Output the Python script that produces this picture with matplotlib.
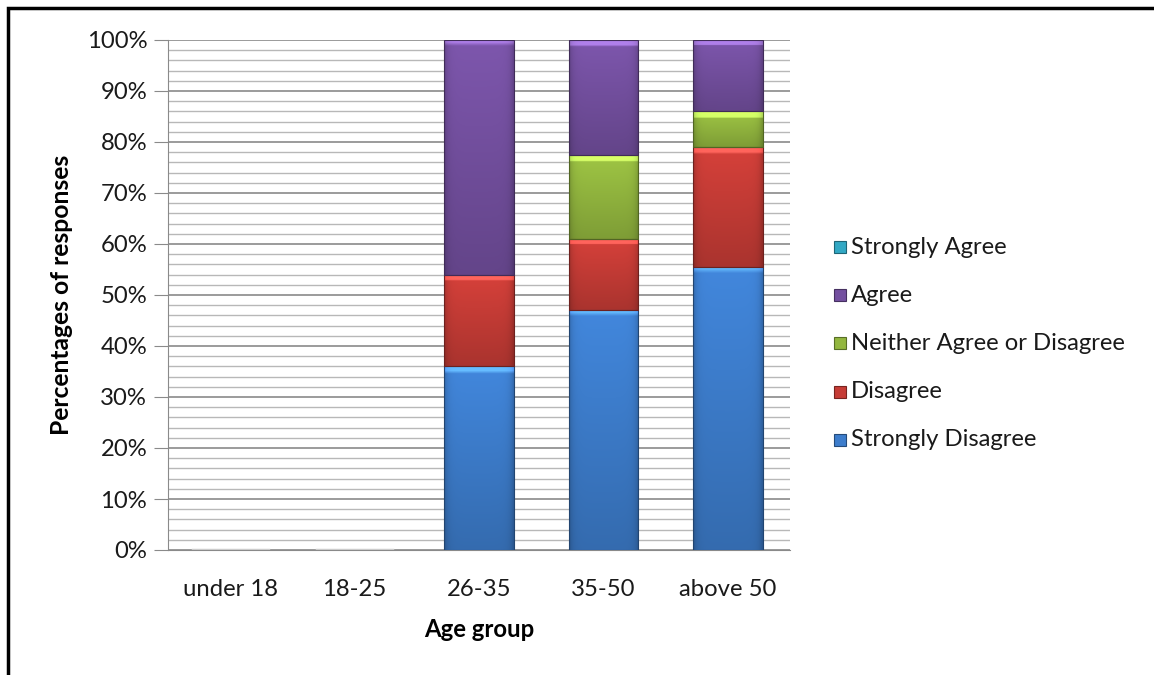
import numpy as np
import matplotlib
matplotlib.use("Agg")
import matplotlib.pyplot as plt
from matplotlib.colors import to_rgb
from matplotlib.patches import Rectangle
from matplotlib.ticker import MultipleLocator, PercentFormatter

plt.rcParams['font.family'] = ['Lato', 'DejaVu Sans']

categories = ["under 18", "18-25", "26-35", "35-50", "above 50"]
strongly_disagree = [0, 0, 36, 47, 55.5]
disagree = [0, 0, 18, 14, 23.5]
neither = [0, 0, 0, 16.5, 7]
agree = [0, 0, 46, 22.5, 14]
strongly_agree = [0, 0, 0, 0, 0]

series = [
    ("Strongly Disagree", strongly_disagree, "#3d7dcc"),
    ("Disagree", disagree, "#c63c36"),
    ("Neither Agree or Disagree", neither, "#93b73f"),
    ("Agree", agree, "#7450a0"),
    ("Strongly Agree", strongly_agree, "#32a8c4"),
]

FS = 17.2
W, H = 1154, 675
fig = plt.figure(figsize=(W / 100, H / 100), dpi=100)
ax = fig.add_axes([168 / W, 1 - 550 / H, (790 - 168) / W, (550 - 40) / H])

x = np.arange(len(categories))
bottom = np.zeros(len(categories))
handles = []
for name, vals, col in series:
    vals = np.array(vals, dtype=float)
    bars = ax.bar(x, vals, 0.56, bottom=bottom, color=col, edgecolor="none",
                  label=name, zorder=3)
    handles.append((name, col))
    base = np.array(to_rgb(col))
    for p in bars:
        h = p.get_height()
        if h <= 0:
            continue
        bx, by, bw = p.get_x(), p.get_y(), p.get_width()
        ny, nx = 60, 40
        yy = np.linspace(0, 1, ny)[:, None]
        xx = np.linspace(0, 1, nx)[None, :]
        fac = 1.08 - 0.22 * yy
        edge = 1 - 0.18 * np.exp(-np.minimum(xx, 1 - xx) / 0.05)
        img = np.clip(base[None, None, :] * (fac * edge)[:, :, None], 0, 1)
        top_px = max(1, int(ny * min(0.5, 1.4 / h)))
        img[:top_px] = np.clip(img[:top_px] * 1.25 + 0.08, 0, 1)
        im = ax.imshow(img, extent=(bx, bx + bw, by, by + h), aspect="auto",
                       zorder=3.5, interpolation="bilinear")
        im.set_clip_path(p)
        ax.add_patch(Rectangle((bx, by), bw, h, fill=False,
                               edgecolor=tuple(base * 0.55), lw=0.8, zorder=4))
    bottom += vals

for i in range(len(categories)):
    if bottom[i] == 0:
        ax.plot([x[i] - 0.3, x[i] + 0.3], [0, 0], color="#d0d0d0", lw=2.5, zorder=2)

ax.set_xlim(-0.5, len(categories) - 0.5)
ax.set_ylim(0, 100)
ax.yaxis.set_major_locator(MultipleLocator(10))
ax.yaxis.set_minor_locator(MultipleLocator(2))
ax.yaxis.set_major_formatter(PercentFormatter(decimals=0))
ax.grid(which="major", axis="y", color="#8a8a8a", lw=1.2, zorder=0)
ax.grid(which="minor", axis="y", color="#b8b8b8", lw=1.0, zorder=0)
ax.set_axisbelow(True)
ax.set_xticks(x)
ax.set_xticklabels(categories)
for s in ["top", "right"]:
    ax.spines[s].set_visible(False)
ax.spines["left"].set_color("#8a8a8a")
ax.spines["bottom"].set_color("#8a8a8a")
ax.tick_params(axis="y", which="major", length=10, color="#8a8a8a", labelsize=FS,
               pad=5, labelcolor="#1a1a1a")
ax.tick_params(axis="y", which="minor", length=0)
ax.tick_params(axis="x", length=0, labelsize=FS, pad=21, labelcolor="#1a1a1a")
ax.set_xlabel("Age group", fontsize=FS, fontweight="bold", labelpad=13)
ax.set_ylabel("Percentages of responses", fontsize=FS + 0.5, fontweight="bold", labelpad=10)

ys = [247, 295, 343, 392, 440]
for (name, col), yp in zip(reversed(handles), ys):
    fy = 1 - yp / H
    fig.patches.append(Rectangle((834 / W, fy - 6 / H), 12 / W, 12 / H,
                                 transform=fig.transFigure, facecolor=col,
                                 edgecolor=tuple(np.array(to_rgb(col)) * 0.6), lw=0.8))
    fig.text(851 / W, fy, name, fontsize=FS, va="center", ha="left", color="#1a1a1a")

fig.patches.append(Rectangle((8 / W, -0.1), 1.2, 1 - 8 / H + 0.1,
                             transform=fig.transFigure, fill=False,
                             edgecolor="black", lw=2.5))

fig.savefig("out.png", dpi=100, facecolor="white")
